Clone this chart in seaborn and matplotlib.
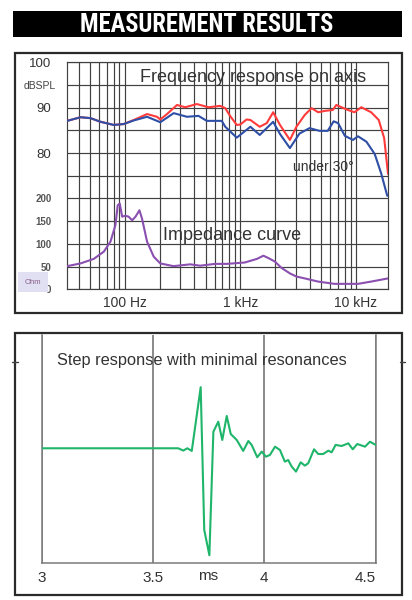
import matplotlib
matplotlib.use("Agg")
import matplotlib.pyplot as plt
import matplotlib.patches as mpatches
from matplotlib.lines import Line2D
from matplotlib.ticker import LogLocator, NullFormatter
from matplotlib import font_manager
from matplotlib.font_manager import FontProperties
import seaborn as sns
import pandas as pd

# ---------------- data ----------------
freq_on = [31.8, 41.5, 50.6, 61.7, 80.4, 98, 120, 156, 190, 203, 232, 283, 333, 420, 530, 668,
           740, 814, 930, 1000, 1130, 1220, 1470, 1690, 1920, 2200, 2680, 3050, 3600, 4120,
           4700, 5370, 6300, 6750, 8500, 9700, 11100, 13500, 15700, 17500, 18900]
spl_on = [87.1, 87.9, 87.7, 86.9, 86.2, 86.4, 87.3, 88.6, 88.0, 87.4, 88.6, 90.6, 90.1, 90.8, 90.1, 90.4,
          89.9, 88.2, 86.2, 86.3, 87.4, 87.3, 85.8, 86.6, 89.0, 86.2, 82.9, 85.8, 88.4, 89.9,
          89.0, 89.3, 89.5, 90.6, 89.5, 89.0, 90.1, 89.0, 87.3, 83.3, 75.4]

freq_30 = [31.8, 41.5, 50.6, 61.7, 80.4, 98, 120, 156, 203, 265, 345, 434, 512, 690,
           740, 930, 1220, 1470, 1920, 2200, 2680, 3240, 3960, 4830,
           5690, 6400, 7000, 8000, 9400, 10400, 12300, 14500, 16500, 18600]
spl_30 = [87.1, 87.9, 87.7, 86.9, 86.2, 86.4, 87.2, 88.0, 86.8, 88.8, 88.0, 88.2, 87.1, 87.1,
          85.8, 83.4, 85.8, 84.0, 86.9, 84.2, 81.1, 84.3, 85.5, 84.9,
          84.9, 87.0, 86.6, 83.8, 82.9, 83.7, 82.5, 79.8, 75.5, 70.6]

freq_imp = [31.8, 41.5, 54, 66, 75.3, 83, 87, 90.5, 95, 101, 108, 116, 124, 134, 141, 156, 178, 203,
            264, 368, 449, 604, 763, 1090, 1390, 1580, 1740, 1990, 2270, 2680, 3060, 3600, 4700,
            6500, 10400, 13500, 18900]
imp_ohm = [51, 57, 67, 83, 105, 141, 185, 189, 160, 162, 160, 152, 160, 174, 156, 105, 72, 57,
           51, 55, 52, 56, 56, 59, 67, 74, 69, 61, 47, 35, 28, 24, 17,
           12, 12, 17, 24]

t_step = [3.0, 3.613, 3.636, 3.654, 3.674, 3.714, 3.730, 3.753, 3.771, 3.793,
          3.811, 3.831, 3.849, 3.876, 3.905, 3.928, 3.943, 3.968, 3.988, 4.007,
          4.025, 4.048, 4.070, 4.092, 4.107, 4.123, 4.142, 4.163, 4.182, 4.197,
          4.223, 4.242, 4.264, 4.287, 4.302, 4.320, 4.347, 4.377, 4.397, 4.417,
          4.452, 4.474, 4.5]
v_step = [0, 0, -0.02, 0, -0.023, 0.531, -0.71, -0.93, 0.144, 0.231,
          0.072, 0.281, 0.124, 0.072, -0.023, 0.063, 0.029, -0.078, -0.029, -0.073,
          -0.058, 0.014, -0.015, -0.116, -0.102, -0.16, -0.203, -0.122, -0.151, -0.130,
          -0.009, -0.05, -0.05, -0.021, -0.035, 0.029, 0.020, 0.043, -0.009, 0.037,
          0.014, 0.057, 0.029]

db_ticks = [50, 55, 60, 65, 70, 75, 80, 85, 90, 95, 100]
db_labels = ["", "", "", "", "", "", "80", "", "90", "", "100"]
ohm_ticks = [0, 50, 100, 150, 200]
freq_ticks = [100, 1000, 10000]
freq_labels = ["100 Hz", "1 kHz", "10 kHz"]
time_ticks = [3, 3.5, 4, 4.5]
time_labels = ["3", "3.5", "4", "4.5"]

# ---------------- style ----------------
sns.set_style("white")
plt.rcParams["font.family"] = ["Liberation Sans", "DejaVu Sans"]


def pick_condensed_bold():
    cands = []
    for f in font_manager.fontManager.ttflist:
        fn = f.fname.lower()
        nm = f.name.lower()
        narrow = ("condensed" in fn or "narrow" in fn or "condensed" in nm or "narrow" in nm
                  or str(f.stretch) in ("condensed", "semi-condensed", "extra-condensed"))
        if not narrow:
            continue
        w = f.weight if isinstance(f.weight, int) else font_manager.weight_dict.get(f.weight, 400)
        if w < 600 or w > 800 or "italic" in fn or "oblique" in fn or f.style != "normal":
            continue
        if "semicondensed" in fn or "extracondensed" in fn:
            continue
        score = 5
        if "liberation" in nm:
            score = 0
        elif "dejavu" in nm:
            score = 2
        elif "noto sans" in nm and "cjk" not in nm:
            score = 1
        elif "open sans" in nm:
            score = 3
        elif "roboto" in nm:
            score = 1
        cands.append((score, f.fname))
    if cands:
        cands.sort()
        return FontProperties(fname=cands[0][1])
    return FontProperties(family=["Liberation Sans", "DejaVu Sans"], weight="bold")


W, H = 412, 600
fig = plt.figure(figsize=(W / 100, H / 100), dpi=100)
fig.patch.set_facecolor("white")


def fx(px):
    return px / W


def fy(py):
    return 1 - py / H


# header
fig.add_artist(mpatches.Rectangle((fx(13), fy(37)), fx(402) - fx(13), fy(11) - fy(37),
                                  transform=fig.transFigure, facecolor="black", edgecolor="none"))
hp = pick_condensed_bold()
hp.set_size(17.5)
htxt = fig.text(fx(207), fy(24.5), "MEASUREMENT RESULTS", color="white",
                fontproperties=hp, ha="center", va="center")
renderer = fig.canvas.get_renderer()
wpx = htxt.get_window_extent(renderer=renderer).width
if wpx > 0:
    hp2 = hp.copy()
    hp2.set_size(min(19.0, 17.5 * 253.0 / wpx))
    htxt.set_fontproperties(hp2)

# frames
for (x0, y0, x1, y1) in [(15, 53, 402, 313), (15, 333, 402, 595)]:
    fig.add_artist(mpatches.Rectangle((fx(x0), fy(y1)), fx(x1) - fx(x0), fy(y0) - fy(y1),
                                      transform=fig.transFigure, fill=False,
                                      edgecolor="#2a2a2a", lw=1.6))
for (xa, xb) in [(12, 18), (400, 405)]:
    fig.add_artist(Line2D([fx(xa), fx(xb)], [fy(362), fy(362)], transform=fig.transFigure,
                          color="#444444", lw=1.0))

# ---------------- top: frequency response ----------------
ax = fig.add_axes([fx(66.7), fy(289.3), fx(388.3) - fx(66.7), fy(62.3) - fy(289.3)])
ax.set_xscale("log")
df_on = pd.DataFrame({"f": freq_on, "spl": spl_on})
df_30 = pd.DataFrame({"f": freq_30, "spl": spl_30})
sns.lineplot(data=df_on, x="f", y="spl", ax=ax, color="#ff3b3b", lw=1.5, zorder=4)
sns.lineplot(data=df_30, x="f", y="spl", ax=ax, color="#2f4fa6", lw=1.5, zorder=5)
ax.set_xlim(31.5, 19000)
ax.set_ylim(50, 100)
ax.set_yticks(db_ticks)
ax.set_yticklabels(db_labels)
ax.set_xticks(freq_ticks)
ax.set_xticklabels(freq_labels)
ax.xaxis.set_minor_locator(LogLocator(base=10, subs=range(2, 10)))
ax.xaxis.set_minor_formatter(NullFormatter())
ax.grid(which="both", axis="x", color="#404040", lw=0.85)
ax.grid(which="major", axis="y", color="#404040", lw=0.85)
ax.tick_params(which="both", length=0)
ax.tick_params(axis="x", labelsize=10, labelcolor="#333333", pad=5)
ax.tick_params(axis="y", labelsize=9.5, labelcolor="#333333", pad=11)
for s in ax.spines.values():
    s.set_color("#404040")
    s.set_linewidth(0.85)
ax.set_xlabel("")
ax.set_ylabel("")

ax2 = ax.twinx()
df_imp = pd.DataFrame({"f": freq_imp, "ohm": imp_ohm})
sns.lineplot(data=df_imp, x="f", y="ohm", ax=ax2, color="#8a4fb0", lw=1.5)
ax2.set_ylim(0, 500)
ax2.set_xlim(31.5, 19000)
ax2.yaxis.tick_left()
ax2.set_yticks(ohm_ticks)
ax2.set_yticklabels([str(v) for v in ohm_ticks])
ax2.tick_params(length=0, labelsize=7, labelcolor="#555555", pad=11)
for lab in ax2.get_yticklabels():
    lab.set_fontweight("bold")
for s in ax2.spines.values():
    s.set_visible(False)
ax2.set_ylabel("")
ax2.set_xlabel("")

ax.text(0.228, 0.935, "Frequency response on axis", transform=ax.transAxes, fontsize=13,
        color="#333333", ha="left", va="center")
ax.text(0.2994, 0.239, "Impedance curve", transform=ax.transAxes, fontsize=13,
        color="#333333", ha="left", va="center")
ax.text(0.704, 0.539, "under 30°", transform=ax.transAxes, fontsize=10,
        color="#333333", ha="left", va="center")
fig.text(fx(56), fy(86), "dBSPL", fontsize=7.5, color="#444444", ha="right", va="center")
fig.text(fx(33), fy(282), "Ohm", fontsize=5.5, color="#8a5f8a", ha="center", va="center",
         bbox=dict(boxstyle="square,pad=0.9", facecolor="#e0e0f2", edgecolor="none"))

# ---------------- bottom: step response ----------------
bx = fig.add_axes([fx(41.7), fy(562.7), fx(375.7) - fx(41.7), fy(335) - fy(562.7)])
df_step = pd.DataFrame({"t": t_step, "v": v_step})
sns.lineplot(data=df_step, x="t", y="v", ax=bx, color="#1fb56a", lw=1.5, zorder=4)
bx.set_xlim(3, 4.5)
bx.set_ylim(-0.995, 0.985)
bx.set_xticks(time_ticks)
bx.set_xticklabels(time_labels)
bx.set_yticks([0, 0.925])
bx.set_yticklabels(["", ""])
bx.grid(axis="x", color="#6a6a6a", lw=1.1)
bx.tick_params(axis="x", length=0, labelsize=11, labelcolor="#333333", pad=6)
bx.tick_params(axis="y", length=2.5, width=0.8, color="#777777")
bx.get_xticklabels()[-1].set_ha("right")
bx.spines["top"].set_visible(False)
for k in ["left", "bottom", "right"]:
    bx.spines[k].set_color("#7a7a7a")
    bx.spines[k].set_linewidth(1.1)
bx.set_xlabel("")
bx.set_ylabel("")
fig.text(fx(208), fy(576), "ms", fontsize=11, color="#333333", ha="center", va="center")
fig.text(fx(57), fy(360), "Step response with minimal resonances", fontsize=11.8,
         color="#333333", ha="left", va="center")

fig.savefig("out.png", dpi=100, facecolor="white")
